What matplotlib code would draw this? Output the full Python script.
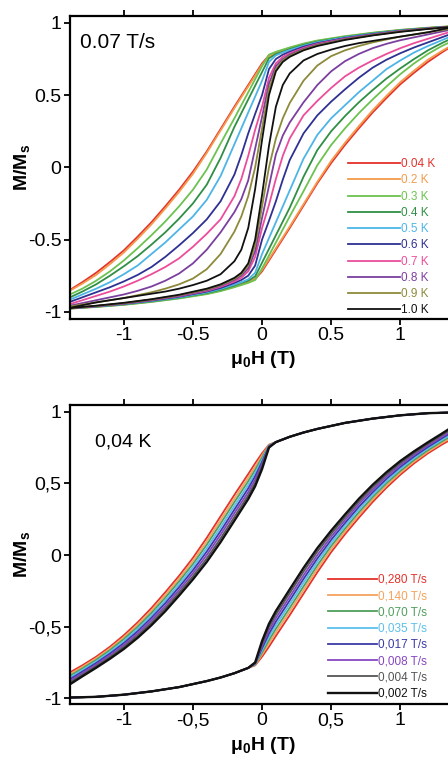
import numpy as np
import matplotlib.pyplot as plt

plt.rcParams["font.family"] = ["Liberation Sans", "DejaVu Sans"]
plt.rcParams["mathtext.fontset"] = "custom"
plt.rcParams["mathtext.rm"] = "Liberation Sans"
plt.rcParams["mathtext.bf"] = "Liberation Sans:bold"

# ---- top panel: 0.07 T/s, different temperatures (descending branch) ----
H_top = [1.4, 1.2, 1.0, 0.8, 0.6, 0.4, 0.3, 0.2, 0.15, 0.1, 0.05, 0.0,
         -0.05, -0.1, -0.15, -0.2, -0.3, -0.4, -0.5, -0.6, -0.7, -0.8,
         -0.9, -1.0, -1.1, -1.2, -1.3, -1.4]

M_004K = [0.978, 0.965, 0.95, 0.93, 0.905, 0.874, 0.853, 0.826, 0.81, 0.795, 0.775,
          0.72, 0.645, 0.57, 0.495, 0.42, 0.265, 0.11, -0.03, -0.155, -0.27, -0.38,
          -0.48, -0.575, -0.655, -0.73, -0.795, -0.855]
M_02K = [0.977, 0.964, 0.949, 0.928, 0.903, 0.872, 0.85, 0.822, 0.805, 0.79, 0.77,
         0.71, 0.635, 0.56, 0.485, 0.41, 0.255, 0.10, -0.045, -0.17, -0.285, -0.395,
         -0.495, -0.59, -0.67, -0.745, -0.805, -0.86]
M_03K = [0.979, 0.967, 0.952, 0.932, 0.908, 0.878, 0.857, 0.83, 0.815, 0.80, 0.78,
         0.70, 0.61, 0.52, 0.43, 0.34, 0.165, -0.015, -0.155, -0.27, -0.375, -0.47,
         -0.56, -0.645, -0.72, -0.785, -0.84, -0.885]
M_04K = [0.977, 0.964, 0.948, 0.927, 0.902, 0.87, 0.847, 0.818, 0.80, 0.785, 0.755,
         0.66, 0.565, 0.47, 0.375, 0.28, 0.065, -0.12, -0.25, -0.355, -0.45, -0.535,
         -0.615, -0.685, -0.75, -0.81, -0.86, -0.905]
M_05K = [0.977, 0.963, 0.947, 0.925, 0.90, 0.866, 0.842, 0.812, 0.795, 0.775, 0.73,
         0.60, 0.49, 0.38, 0.27, 0.16, -0.06, -0.225, -0.34, -0.43, -0.52, -0.60,
         -0.68, -0.74, -0.795, -0.84, -0.88, -0.92]
M_06K = [0.976, 0.962, 0.945, 0.922, 0.895, 0.86, 0.835, 0.80, 0.78, 0.75, 0.68,
         0.50, 0.37, 0.235, 0.085, -0.05, -0.235, -0.36, -0.455, -0.54, -0.62, -0.69,
         -0.745, -0.79, -0.83, -0.865, -0.90, -0.935]
M_07K = [0.976, 0.961, 0.943, 0.919, 0.891, 0.855, 0.827, 0.79, 0.765, 0.72, 0.62,
         0.42, 0.26, 0.08, -0.08, -0.20, -0.36, -0.46, -0.55, -0.63, -0.69, -0.74,
         -0.785, -0.825, -0.86, -0.89, -0.92, -0.95]
M_08K = [0.975, 0.96, 0.942, 0.917, 0.888, 0.85, 0.82, 0.78, 0.75, 0.70, 0.58,
         0.35, 0.13, -0.09, -0.22, -0.31, -0.45, -0.57, -0.665, -0.735, -0.785, -0.825,
         -0.855, -0.88, -0.90, -0.92, -0.94, -0.96]
M_09K = [0.975, 0.959, 0.94, 0.915, 0.885, 0.845, 0.815, 0.772, 0.74, 0.68, 0.54,
         0.27, 0.0, -0.2, -0.34, -0.445, -0.6, -0.705, -0.77, -0.81, -0.84, -0.865,
         -0.885, -0.905, -0.92, -0.935, -0.95, -0.965]
M_10K = [0.975, 0.958, 0.938, 0.913, 0.882, 0.84, 0.81, 0.765, 0.73, 0.665, 0.50,
         0.19, -0.15, -0.42, -0.57, -0.65, -0.74, -0.785, -0.815, -0.84, -0.86, -0.875,
         -0.89, -0.905, -0.92, -0.935, -0.955, -0.975]

top_curves = [M_004K, M_02K, M_03K, M_04K, M_05K, M_06K, M_07K, M_08K, M_09K, M_10K]
top_labels = ["0.04 K", "0.2 K", "0.3 K", "0.4 K", "0.5 K",
              "0.6 K", "0.7 K", "0.8 K", "0.9 K", "1.0 K"]
top_colors = ["#e4322b", "#f39a4c", "#6cc24f", "#2f8f45", "#4db5e6",
              "#2e3192", "#ec4d9b", "#7b3f9f", "#8d8a3a", "#111111"]

# ---- bottom panel: 0.04 K, different sweep rates (descending branch) ----
H_env = [1.4, 1.2, 1.0, 0.8, 0.6, 0.4, 0.3, 0.2, 0.1]
M_env = [0.995, 0.99, 0.975, 0.952, 0.922, 0.88, 0.855, 0.825, 0.788]

H_bot = [0.05, 0.0, -0.05, -0.1, -0.2, -0.3, -0.4, -0.5, -0.6, -0.7, -0.8,
         -0.9, -1.0, -1.1, -1.2, -1.3, -1.4]
M_0280 = [0.77, 0.71, 0.64, 0.565, 0.42, 0.27, 0.12, -0.02, -0.145, -0.26, -0.37,
          -0.47, -0.56, -0.64, -0.71, -0.77, -0.825]
M_0140 = [0.767, 0.695, 0.617, 0.54, 0.394, 0.244, 0.096, -0.041, -0.165, -0.279, -0.387,
          -0.485, -0.574, -0.652, -0.721, -0.781, -0.837]
M_0070 = [0.764, 0.68, 0.594, 0.515, 0.369, 0.219, 0.072, -0.063, -0.184, -0.298, -0.404,
          -0.501, -0.587, -0.664, -0.732, -0.792, -0.849]
M_0035 = [0.761, 0.665, 0.571, 0.49, 0.343, 0.193, 0.048, -0.084, -0.204, -0.317, -0.421,
          -0.516, -0.601, -0.676, -0.743, -0.803, -0.861]
M_0017 = [0.758, 0.65, 0.549, 0.465, 0.317, 0.167, 0.024, -0.106, -0.224, -0.336, -0.438,
          -0.532, -0.615, -0.688, -0.754, -0.814, -0.873]
M_0008 = [0.755, 0.635, 0.526, 0.44, 0.292, 0.142, 0.0, -0.127, -0.244, -0.355, -0.456,
          -0.547, -0.629, -0.70, -0.765, -0.825, -0.885]
M_0004 = [0.752, 0.62, 0.503, 0.416, 0.266, 0.116, -0.024, -0.148, -0.263, -0.373, -0.473,
          -0.562, -0.642, -0.712, -0.776, -0.836, -0.897]
M_0002 = [0.75, 0.60, 0.48, 0.391, 0.24, 0.09, -0.048, -0.17, -0.283, -0.392, -0.49,
          -0.578, -0.656, -0.724, -0.787, -0.847, -0.909]

bot_curves = [M_0280, M_0140, M_0070, M_0035, M_0017, M_0008, M_0004, M_0002]
bot_labels = ["0,280 T/s", "0,140 T/s", "0,070 T/s", "0,035 T/s",
              "0,017 T/s", "0,008 T/s", "0,004 T/s", "0,002 T/s"]
bot_colors = ["#e4322b", "#f5a35e", "#4f9e5c", "#5bc0ea",
              "#3a3aa8", "#8646c2", "#555555", "#111111"]

ticks = [-1, -0.5, 0, 0.5, 1]
top_ticklabels = ["-1", "-0.5", "0", "0.5", "1"]
bot_ticklabels = ["-1", "-0,5", "0", "0,5", "1"]

fig = plt.figure(figsize=(4.48, 7.57), dpi=100)
ax1 = fig.add_axes([0.156, 0.5786, 0.861, 0.4007])
ax2 = fig.add_axes([0.156, 0.070, 0.861, 0.395])

H = np.array(H_top)
for M, c, lab in zip(top_curves, top_colors, top_labels):
    M = np.array(M)
    ax1.plot(H, M, color=c, lw=1.3, label=lab)
    ax1.plot(-H, -M, color=c, lw=1.3)

for M, c, lab in zip(bot_curves, bot_colors, bot_labels):
    Hd = np.array(H_env + H_bot)
    Md = np.array(M_env + M)
    w = 1.7 if c == "#111111" else 1.3
    ax2.plot(Hd, Md, color=c, lw=w, label=lab)
    ax2.plot(-Hd, -Md, color=c, lw=w)

for ax, tl in [(ax1, top_ticklabels), (ax2, bot_ticklabels)]:
    ax.set_xlim(-1.39, 1.4)
    ax.set_xticks(ticks)
    ax.set_xticklabels(tl)
    ax.set_yticks(ticks)
    ax.set_yticklabels(tl)
    ax.tick_params(direction="out", length=4, width=1.3, top=True, right=True,
                   labelsize=14, pad=2)
    for s in ax.spines.values():
        s.set_linewidth(1.6)
    ax.set_ylabel("M/M$_\\mathbf{s}$", fontsize=14, fontweight="bold")
    ax.set_xlabel("\u03bc$_\\mathbf{0}$H (T)", fontsize=14, fontweight="bold")
    ax.yaxis.set_label_coords(-0.095, 0.5)

ax1.set_ylim(-1.05, 1.05)
ax2.set_ylim(-1.04, 1.047)
ax1.xaxis.set_label_coords(0.5, -0.1)
ax2.xaxis.set_label_coords(0.5, -0.105)

ax1.text(0.026, 0.91, "0.07 T/s", transform=ax1.transAxes, fontsize=15, va="center")
ax2.text(0.065, 0.877, "0,04 K", transform=ax2.transAxes, fontsize=14, va="center")

leg_kw = dict(loc="upper left", frameon=False, fontsize=8.5,
              handletextpad=0.15, labelspacing=0.36, borderpad=0, borderaxespad=0,
              labelcolor="linecolor")
ax1.legend(bbox_to_anchor=(0.72, 0.53), handlelength=4.4, **leg_kw)
ax2.legend(bbox_to_anchor=(0.668, 0.435), handlelength=4.15, **leg_kw)

fig.savefig("out.png", dpi=100)
